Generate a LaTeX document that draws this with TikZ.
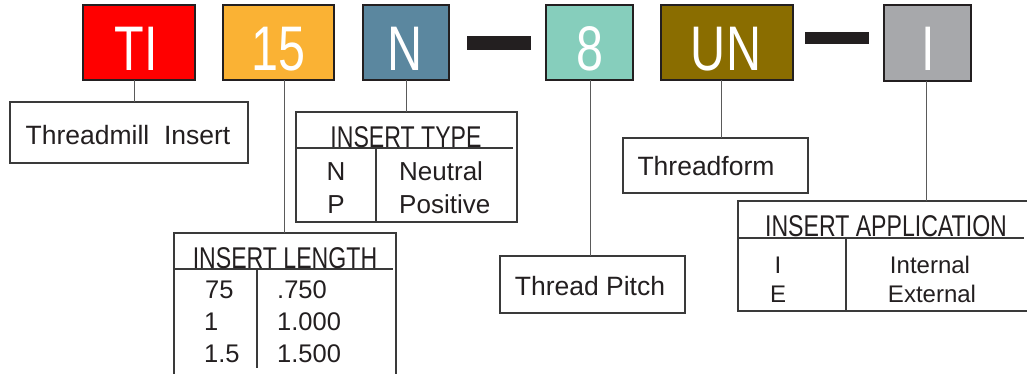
\documentclass[tikz,border=0pt]{standalone}
\usepackage{fontspec}
\setmainfont{Liberation Sans}
\newfontfamily\condfont[FakeStretch=0.77]{Liberation Sans}
\definecolor{cTI}{HTML}{FF0000}
\definecolor{cFif}{HTML}{FAB234}
\definecolor{cN}{HTML}{5B879F}
\definecolor{cEig}{HTML}{86CEBC}
\definecolor{cUN}{HTML}{8A6D00}
\definecolor{cI}{HTML}{A7A8AB}
\definecolor{ink}{HTML}{231F20}
\definecolor{boxline}{HTML}{3A3A3A}
\definecolor{gline}{HTML}{5A5A5A}
\definecolor{txt}{HTML}{231F20}
\tikzset{
  codebox/.style={draw=ink, line width=1.5pt, inner sep=0pt, outer sep=0pt, anchor=north west, minimum height=75pt},
  codetxt/.style={text=white, font=\condfont\fontsize{63}{63}\selectfont, anchor=base, inner sep=0pt},
  bar/.style={fill=ink, draw=none, inner sep=0pt, outer sep=0pt, anchor=north west},
  lblbox/.style={draw=boxline, line width=1.1pt, inner sep=0pt, outer sep=0pt, anchor=north west},
  lbltxt/.style={text=txt, font=\fontsize{26.5}{30}\selectfont, anchor=base, inner sep=0pt},
  ttl/.style={text=txt, font=\condfont\fontsize{30}{32}\selectfont, anchor=base, inner sep=0pt},
  cellA/.style={text=txt, font=\fontsize{26}{30}\selectfont, inner sep=0pt},
  cellB/.style={text=txt, font=\fontsize{25.5}{29}\selectfont, inner sep=0pt},
  cellC/.style={text=txt, font=\fontsize{24}{28}\selectfont, inner sep=0pt},
  tline/.style={draw=boxline, line width=1.1pt},
  conn/.style={draw=gline, line width=1pt}
}
\begin{document}
\begin{tikzpicture}[x=1pt,y=-1pt]
\useasboundingbox[fill=white] (0,0) rectangle (1027,373);

% code boxes
\node[codebox, fill=cTI, minimum width=112pt] (ti) at (83,5) {};
\node[codebox, fill=cFif, minimum width=111pt] (fif) at (223,5) {};
\node[codebox, fill=cN, minimum width=86pt] (nn) at (363,5) {};
\node[bar, minimum width=64pt, minimum height=14pt] (dashA) at (467,36) {};
\node[codebox, fill=cEig, minimum width=87pt] (eig) at (546,5) {};
\node[codebox, fill=cUN, minimum width=132pt] (un) at (661,5) {};
\node[bar, minimum width=64pt, minimum height=12pt] (dashB) at (805,32) {};
\node[codebox, fill=cI, minimum width=87pt, minimum height=76pt] (ii) at (884,5) {};

\path (ti.south) ++(-3,-10) node[codetxt] (tiT) {TI};
\path (fif.south) ++(0,-10) node[codetxt] (fifT) {15};
\path (nn.south) ++(-1,-10) node[codetxt] (nnT) {N};
\path (eig.south) ++(0,-10) node[codetxt] (eigT) {8};
\path (un.south) ++(-1,-10) node[codetxt] (unT) {UN};
\path (ii.south) ++(1,-11) node[codetxt] (iiT) {I};

% label boxes
\node[lblbox, minimum width=238pt, minimum height=61pt] (lTI) at (10,102) {};
\node[lbltxt] (lTIt) at (128,144) {Threadmill\ \ Insert};
\node[lblbox, minimum width=185pt, minimum height=57pt] (lTP) at (500,256) {};
\node[lbltxt] (lTPt) at (590,295) {Thread Pitch};
\node[lblbox, minimum width=185pt, minimum height=55pt] (lTF) at (623,138) {};
\node[lbltxt] (lTFt) at (706,175) {Threadform};

% INSERT TYPE table
\node[lblbox, minimum width=221pt, minimum height=110pt] (tType) at (296,112) {};
\coordinate (tTypeH) at (296,148);
\coordinate (tTypeHe) at (513,148);
\coordinate (tTypeD) at (376,148);
\draw[tline] (tTypeH) -- (tTypeHe);
\draw[tline] (tTypeD) -- (tTypeD |- tType.south);
\node[ttl] (tTypeT) at (406,147) {INSERT TYPE};
\node[cellA, anchor=base] (tTypeN) at (336,180) {N};
\node[cellA, anchor=base] (tTypeP) at (336,213) {P};
\node[cellA, anchor=base west] (tTypeNt) at (399,180) {Neutral};
\node[cellA, anchor=base west] (tTypePt) at (399,213) {Positive};

% INSERT LENGTH table
\node[lblbox, minimum width=222pt, minimum height=160pt] (tLen) at (174,233) {};
\coordinate (tLenH) at (174,269);
\coordinate (tLenHe) at (393,269);
\coordinate (tLenD) at (257,269);
\coordinate (tLenDe) at (257,368);
\draw[tline] (tLenH) -- (tLenHe);
\draw[tline] (tLenD) -- (tLenDe);
\node[ttl] (tLenT) at (285,268) {INSERT LENGTH};
\node[cellB, anchor=base west] (tLenA) at (205,298) {75};
\node[cellB, anchor=base west] (tLenB) at (204,330) {1};
\node[cellB, anchor=base west] (tLenC) at (204,362) {1.5};
\node[cellB, anchor=base west] (tLenAt) at (277,298) {.750};
\node[cellB, anchor=base west] (tLenBt) at (277,330) {1.000};
\node[cellB, anchor=base west] (tLenCt) at (277,362) {1.500};

% INSERT APPLICATION table
\node[lblbox, minimum width=310pt, minimum height=110pt] (tApp) at (738,201) {};
\coordinate (tAppH) at (738,238);
\coordinate (tAppHe) at (1024,238);
\coordinate (tAppD) at (846,238);
\draw[tline] (tAppH) -- (tAppHe);
\draw[tline] (tAppD) -- (tAppD |- tApp.south);
\node[ttl] (tAppT) at (886,236) {INSERT APPLICATION};
\node[cellC, anchor=base] (tAppI) at (778,273) {I};
\node[cellC, anchor=base] (tAppE) at (778,302) {E};
\node[cellC, anchor=base] (tAppIt) at (930,273) {Internal};
\node[cellC, anchor=base] (tAppEt) at (932,302) {External};

% connectors
\coordinate (cxA) at (134,0);
\coordinate (cxB) at (284,0);
\coordinate (cxC) at (406,0);
\coordinate (cxD) at (590,0);
\coordinate (cxE) at (721,0);
\coordinate (cxF) at (926,0);
\draw[conn] (ti.south -| cxA) -- (lTI.north -| cxA);
\draw[conn] (fif.south -| cxB) -- (tLen.north -| cxB);
\draw[conn] (nn.south -| cxC) -- (tType.north -| cxC);
\draw[conn] (eig.south -| cxD) -- (lTP.north -| cxD);
\draw[conn] (un.south -| cxE) -- (lTF.north -| cxE);
\draw[conn] (ii.south -| cxF) -- (tApp.north -| cxF);
\end{tikzpicture}
\end{document}
